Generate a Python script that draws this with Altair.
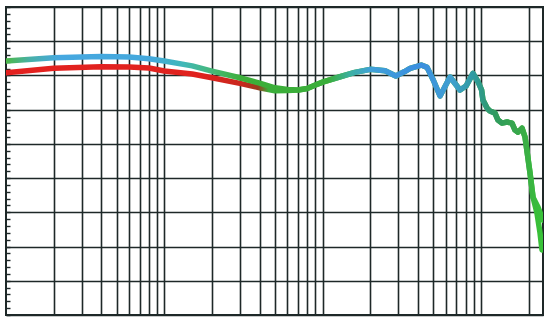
import altair as alt
import pandas as pd

# Upper trace (green/blue), low-frequency part
upper_start_freq = [10, 20, 30, 40, 60, 80, 100, 150, 200, 300, 400, 500, 600]
upper_start_db = [2.1, 2.6, 2.7, 2.75, 2.7, 2.45, 2.1, 1.4, 0.64, -0.34, -1.11, -1.8, -2.06]

# Lower trace (red), low-frequency part
lower_start_freq = [10, 20, 40, 60, 80, 100, 150, 200, 300, 400, 500, 600]
lower_start_db = [0.39, 1.04, 1.27, 1.23, 1.08, 0.64, 0.2, -0.34, -1.16, -1.8, -2.24, -2.2]

# Shared part where both traces coincide
shared_freq = [700, 800, 900, 1000, 1290, 1600, 2000, 2480, 2900, 3300, 3570, 4000,
               4200, 4570, 5000, 5520, 6380, 7380, 8050, 8910, 9590, 10100, 10300,
               10930, 11400, 12270, 12820, 13590, 14620, 15710, 16420, 17150, 18190,
               19000, 20430, 21330]
shared_db = [-2.13, -1.9, -1.4, -0.97, -0.19, 0.45, 0.89, 0.69, -0.08, 0.57, 1.04, 1.37,
             1.52, 1.18, -0.67, -3.0, -0.23, -2.13, -1.55, 0.31, -0.92, -2.13, -3.6,
             -4.77, -5.2, -5.5, -6.52, -6.96, -6.81, -6.96, -7.98, -8.28, -7.69,
             -9.0, -14.27, -17.78]

# Tails
upper_end_freq = [22960, 24670]
upper_end_db = [-19.24, -21.14]
lower_end_freq = [22600, 23620, 24320]
lower_end_db = [-20.1, -23.0, -25.5]

# Grid values
grid_freqs = [20, 30, 40, 50, 60, 70, 80, 90, 100, 200, 300, 400, 500, 600, 700, 800, 900,
              1000, 2000, 3000, 4000, 5000, 6000, 7000, 8000, 9000, 10000, 20000]
db_ticks = list(range(-35, 11))

upper = pd.DataFrame({
    "freq": upper_start_freq + shared_freq + upper_end_freq,
    "db": upper_start_db + shared_db + upper_end_db,
})
lower = pd.DataFrame({
    "freq": lower_start_freq + shared_freq + lower_end_freq,
    "db": lower_start_db + shared_db + lower_end_db,
})
upper["order"] = range(len(upper))
lower["order"] = range(len(lower))

grid_col = "#1e2828"
x_scale = alt.Scale(type="log", domain=[10, 24670], nice=False)
y_scale = alt.Scale(domain=[-35, 10], nice=False)

x_axis = alt.Axis(values=grid_freqs, grid=True, gridColor=grid_col, gridWidth=1.6,
                  ticks=False, labels=False, domain=False, title=None)
y_axis = alt.Axis(values=db_ticks, grid=True, gridColor=grid_col, gridWidth=1.6,
                  gridOpacity=alt.condition("datum.value % 5 === 0", alt.value(1), alt.value(0)),
                  ticks=True, tickSize=4, tickColor=grid_col, tickWidth=1.4, offset=-4,
                  labels=False, domain=False, title=None)

def stops(pairs):
    return [alt.GradientStop(offset=o, color=c) for o, c in pairs]

upper_grad = alt.Gradient(
    gradient="linear", x1=0, x2=1, y1=0, y2=0,
    stops=stops([
        (0.0, "#4db848"), (0.045, "#48b0a8"), (0.10, "#46a8e0"), (0.27, "#44a8dc"),
        (0.33, "#40b8b8"), (0.39, "#46b870"), (0.44, "#3cae38"), (0.60, "#3aae3a"),
        (0.64, "#3cb0a0"), (0.68, "#40a0d8"), (0.77, "#3a8ee0"), (0.83, "#40a0d0"),
        (0.87, "#2e9aa0"), (0.91, "#2f9a60"), (0.96, "#3aaa48"), (1.0, "#38c238"),
    ]),
)
lower_grad = alt.Gradient(
    gradient="linear", x1=0, x2=1, y1=0, y2=0,
    stops=stops([
        (0.0, "#e3211f"), (0.36, "#e0221e"), (0.44, "#c8281e"), (0.47, "#9a3a1e"),
        (0.49, "#3aae3a"), (0.95, "#3aae3a"), (1.0, "#38c238"),
    ]),
)

enc = dict(
    x=alt.X("freq:Q", scale=x_scale, axis=x_axis),
    y=alt.Y("db:Q", scale=y_scale, axis=y_axis),
    order="order:Q",
)

lower_line = alt.Chart(lower).mark_line(color=lower_grad, strokeWidth=5.5, strokeCap="round",
                                        strokeJoin="round", clip=True).encode(**enc)
upper_line = alt.Chart(upper).mark_line(color=upper_grad, strokeWidth=5.5, strokeCap="round",
                                        strokeJoin="round", clip=True).encode(**enc)

chart = alt.layer(lower_line, upper_line).properties(
    width=537, height=308,
    autosize=alt.AutoSizeParams(type="none"),
    padding={"left": 6, "top": 7, "right": 7, "bottom": 10},
    background="white",
).configure_view(stroke=grid_col, strokeWidth=2)

chart.save("out.html", embed_options={"renderer": "svg", "actions": False})
